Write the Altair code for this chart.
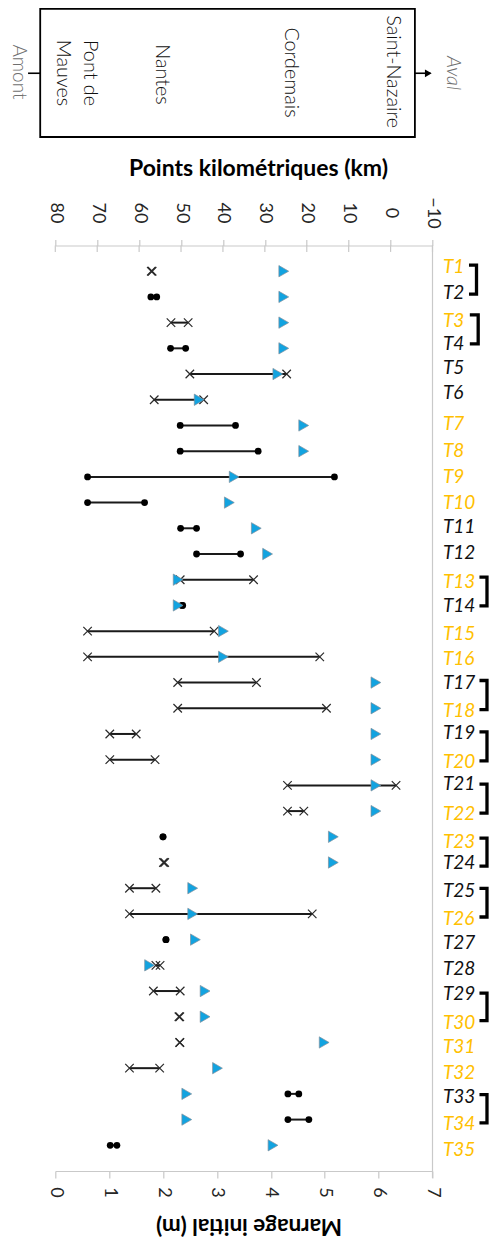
import altair as alt
import pandas as pd

# --- chart values ---
transects = [f"T{i}" for i in range(1, 36)]
rows = list(range(1, 36))
km_up = [57.1, 57.2, 52.4, 52.5, 47.9, 56.4, 50.2, 50.2, 72.3, 72.3,
         50.1, 46.3, 50.2, 49.8, 72.3, 72.3, 50.8, 50.8, 67.0, 67.0,
         24.6, 24.6, 54.3, 54.2, 62.3, 62.3, 53.6, 56.0, 56.6, 50.5,
         50.3, 62.3, 24.5, 24.5, 66.9]
km_down = [56.9, 55.8, 48.3, 48.9, 24.8, 44.6, 37.0, 31.6, 13.4, 58.7,
           46.3, 35.8, 32.7, 49.6, 42.1, 16.9, 32.0, 15.3, 60.7, 56.2,
           -1.3, 20.7, 54.3, 53.9, 56.0, 18.7, 53.6, 55.0, 50.2, 50.3,
           50.3, 55.1, 21.9, 19.5, 65.3]
marnage = [4.24, 4.24, 4.24, 4.24, 4.13, 2.67, 4.61, 4.61, 3.32, 3.23,
           3.73, 3.94, 2.28, 2.28, 3.12, 3.12, 5.95, 5.95, 5.95, 5.95,
           5.95, 5.95, 5.16, 5.16, 2.55, 2.55, 2.60, 1.75, 2.78, 2.78,
           4.99, 3.01, 2.44, 2.44, 4.04]
kind = ["x", "o", "x", "o", "x", "x", "o", "o", "o", "o",
        "o", "o", "x", "o", "x", "x", "x", "x", "x", "x",
        "x", "x", "o", "x", "x", "x", "o", "x", "x", "x",
        "x", "x", "o", "o", "o"]
label_rows = [0.825, 1.836, 2.925, 3.83, 4.78, 5.75, 6.94, 8.0, 9.02, 10.0,
              10.94, 11.97, 13.09, 14.02, 15.11, 16.07, 17.01, 18.1, 18.97, 20.08,
              20.96, 22.13, 23.19, 24.03, 25.1, 26.21, 27.14, 28.15, 29.13, 30.23,
              31.18, 32.2, 33.13, 34.17, 35.18]
orange = ["T1", "T3", "T7", "T8", "T9", "T10", "T13", "T15", "T16", "T18", "T20",
          "T22", "T23", "T26", "T30", "T31", "T32", "T34", "T35"]
km_ticks = [80, 70, 60, 50, 40, 30, 20, 10, 0, -10]
m_ticks = [0, 1, 2, 3, 4, 5, 6, 7]

bracket_top = [0.76, 2.70, 12.90, 16.92, 18.92, 20.95, 23.05, 25.01, 29.08, 33.03]
bracket_bottom = [1.89, 3.83, 14.02, 18.05, 20.05, 22.08, 24.14, 26.12, 30.15, 34.13]
bracket_tab = [-19.1, -19.3, -21.6, -21.6, -21.6, -21.6, -21.6, -21.6, -21.6, -21.6]
bracket_stem = [-20.5, -20.9, -23.0, -23.0, -23.0, -23.0, -23.0, -23.0, -23.0, -23.0]

places = ["Saint-Nazaire", "Cordemais", "Nantes", "Pont de", "Mauves"]
place_km = [-0.6, 23.8, 54.5, 71.7, 78.1]
place_row = [-6.76, -6.73, -6.65, -6.71, -6.71]
upstream = ["Amont"]
upstream_km = [88.7]
upstream_row = [-6.75]
downstream = ["Aval"]
downstream_km = [-14.9]
downstream_row = [-6.71]

FONT = "Lato"
GREY = "#c9c9c9"
INK = "#262626"

df = pd.DataFrame({"t": transects, "row": rows, "a": km_up, "b": km_down,
                   "m": marnage, "kind": kind, "lrow": label_rows})
df["col"] = ["orange" if t in orange else "black" for t in transects]

br = []
for i, (top, bot, tab, stem) in enumerate(zip(bracket_top, bracket_bottom, bracket_tab, bracket_stem)):
    br += [dict(id=i, o=0, km=tab, row=top), dict(id=i, o=1, km=stem, row=top),
           dict(id=i, o=2, km=stem, row=bot), dict(id=i, o=3, km=tab, row=bot)]
br = pd.DataFrame(br)

km_scale = alt.Scale(domain=[80, -10], nice=False, zero=False)
m_scale = alt.Scale(domain=[0, 7], nice=False, zero=False)
y_scale = alt.Scale(domain=[36, 0], nice=False, zero=False)


def X(field):
    return alt.X(field, type="quantitative", scale=km_scale, axis=None)


def Y(field="row"):
    return alt.Y(field, type="quantitative", scale=y_scale, axis=None)


km_axis = alt.Axis(orient="top", values=km_ticks, grid=False, format="d",
                   title="Points kilométriques (km)", titleFont=FONT, titleFontSize=23,
                   titleFontWeight="bold", titleColor="black", titleX=202.7, titleY=-77.5,
                   titleBaseline="middle", titleAlign="center",
                   labelAngle=90, labelAlign="center", labelBaseline="middle",
                   labelFont=FONT, labelFontSize=18, labelColor=INK, labelPadding=27,
                   labelOverlap=False, labelFlush=False, tickColor=GREY, tickSize=6,
                   tickWidth=1.2, domainColor=GREY, domainWidth=1.2)
m_axis = alt.Axis(orient="bottom", values=m_ticks, grid=False, format="d",
                  title="Marnage initial (m)", titleFont=FONT, titleFontSize=22.5,
                  titleFontWeight="bold", titleColor="black", titleAngle=180,
                  titleX=193.2, titleY=54, titleBaseline="middle", titleAlign="center",
                  labelAngle=90, labelAlign="center", labelBaseline="middle",
                  labelFont=FONT, labelFontSize=18, labelColor=INK, labelPadding=14,
                  labelOverlap=False, labelFlush=False, tickColor=GREY, tickSize=7,
                  tickWidth=1.2, domainColor=GREY, domainWidth=1.2)

# axes
top_axis_layer = alt.Chart(pd.DataFrame({"km": km_ticks, "r0": 0.0, "r1": 0.25})).mark_rule(
    color=GREY, strokeWidth=1.2
).encode(x=alt.X("km:Q", scale=km_scale, axis=km_axis), y=Y("r0"), y2="r1")

right_line = alt.Chart(pd.DataFrame({"km": [-10], "r0": [0.0], "r1": [36.27]})).mark_rule(
    color=GREY, strokeWidth=1.2
).encode(x=X("km"), y=Y("r0"), y2="r1")

# ranges and end markers
ranges = alt.Chart(df).mark_rule(color="#1a1a1a", strokeWidth=2).encode(x=X("a"), x2="b", y=Y())
X_SHAPE = "M-1,-1L1,1M-1,1L1,-1"
cross_a = alt.Chart(df[df.kind == "x"]).mark_point(shape=X_SHAPE, filled=False, size=72, stroke="#2a2a2a", strokeWidth=1.2, opacity=1).encode(x=X("a"), y=Y())
cross_b = alt.Chart(df[df.kind == "x"]).mark_point(shape=X_SHAPE, filled=False, size=72, stroke="#2a2a2a", strokeWidth=1.2, opacity=1).encode(x=X("b"), y=Y())
dot_a = alt.Chart(df[df.kind == "o"]).mark_point(shape="circle", filled=True, size=46, color="black", opacity=1).encode(x=X("a"), y=Y())
dot_b = alt.Chart(df[df.kind == "o"]).mark_point(shape="circle", filled=True, size=46, color="black", opacity=1).encode(x=X("b"), y=Y())

# marnage triangles, on their own lower axis
tri = alt.Chart(df).mark_point(shape="triangle-right", filled=True, size=128, fill="#12A3E0",
                               stroke="#7f8f9c", strokeWidth=0.7, opacity=1, fillOpacity=1).encode(
    x=alt.X("m:Q", scale=m_scale, axis=m_axis), y=Y())

# transect labels
labels = alt.Chart(df).mark_text(font=FONT, fontStyle="italic", fontSize=19, align="left", baseline="middle").encode(
    x=alt.X("lkm:Q", scale=km_scale, axis=None), y=Y("lrow"), text="t:N",
    color=alt.Color("col:N", scale=alt.Scale(domain=["orange", "black"], range=["#FFC000", "#111111"]), legend=None)
).transform_calculate(lkm="-12.5")

brackets = alt.Chart(br).mark_line(color="black", strokeWidth=3.3, strokeCap="square", strokeJoin="miter").encode(
    x=X("km"), y=Y(), detail="id:N", order="o:Q")

# schematic above the chart
box = alt.Chart(pd.DataFrame({"x1": [83.6], "x2": [-5.8], "y1": [-9.21], "y2": [-4.22]})).mark_rect(
    filled=False, stroke="black", strokeWidth=1.8
).encode(x=X("x1"), x2="x2", y=Y("y1"), y2="y2")
stubs = alt.Chart(pd.DataFrame({"x1": [86.5, -5.8], "x2": [83.6, -9.5], "r": [-6.70, -6.70]})).mark_rule(
    color="black", strokeWidth=1.6
).encode(x=X("x1"), x2="x2", y=Y("r"))
head = alt.Chart(pd.DataFrame({"km": [-9.0], "r": [-6.70]})).mark_point(
    shape="triangle-right", filled=True, size=60, color="black", opacity=1
).encode(x=X("km"), y=Y("r"))
place_text = alt.Chart(pd.DataFrame({"p": places, "km": place_km, "r": place_row})).mark_text(
    font=FONT, fontSize=19.8, fontWeight=300, angle=90, color="#111111", align="center", baseline="middle"
).encode(x=X("km"), y=Y("r"), text="p:N")
up_text = alt.Chart(pd.DataFrame({"p": upstream, "km": upstream_km, "r": upstream_row})).mark_text(
    font=FONT, fontSize=19, fontWeight=300, angle=90, color="#6f6f6f", align="center", baseline="middle"
).encode(x=X("km"), y=Y("r"), text="p:N")
down_text = alt.Chart(pd.DataFrame({"p": downstream, "km": downstream_km, "r": downstream_row})).mark_text(
    font=FONT, fontSize=19.8, fontWeight=300, fontStyle="italic", angle=90, color="#6f6f6f", align="center", baseline="middle"
).encode(x=X("km"), y=Y("r"), text="p:N")

chart = alt.layer(
    top_axis_layer, right_line, ranges, cross_a, cross_b, dot_a, dot_b, tri,
    labels, brackets, box, stubs, head, place_text, up_text, down_text
).resolve_scale(x="independent", y="shared").properties(
    width=377.2, height=925.5,
    autosize=alt.AutoSizeParams(type="none"),
    padding={"left": 47.3, "top": 237.5, "right": 57.5, "bottom": 70},
).configure_view(stroke=None)

chart.save("out.html", embed_options={"renderer": "svg", "actions": False})
